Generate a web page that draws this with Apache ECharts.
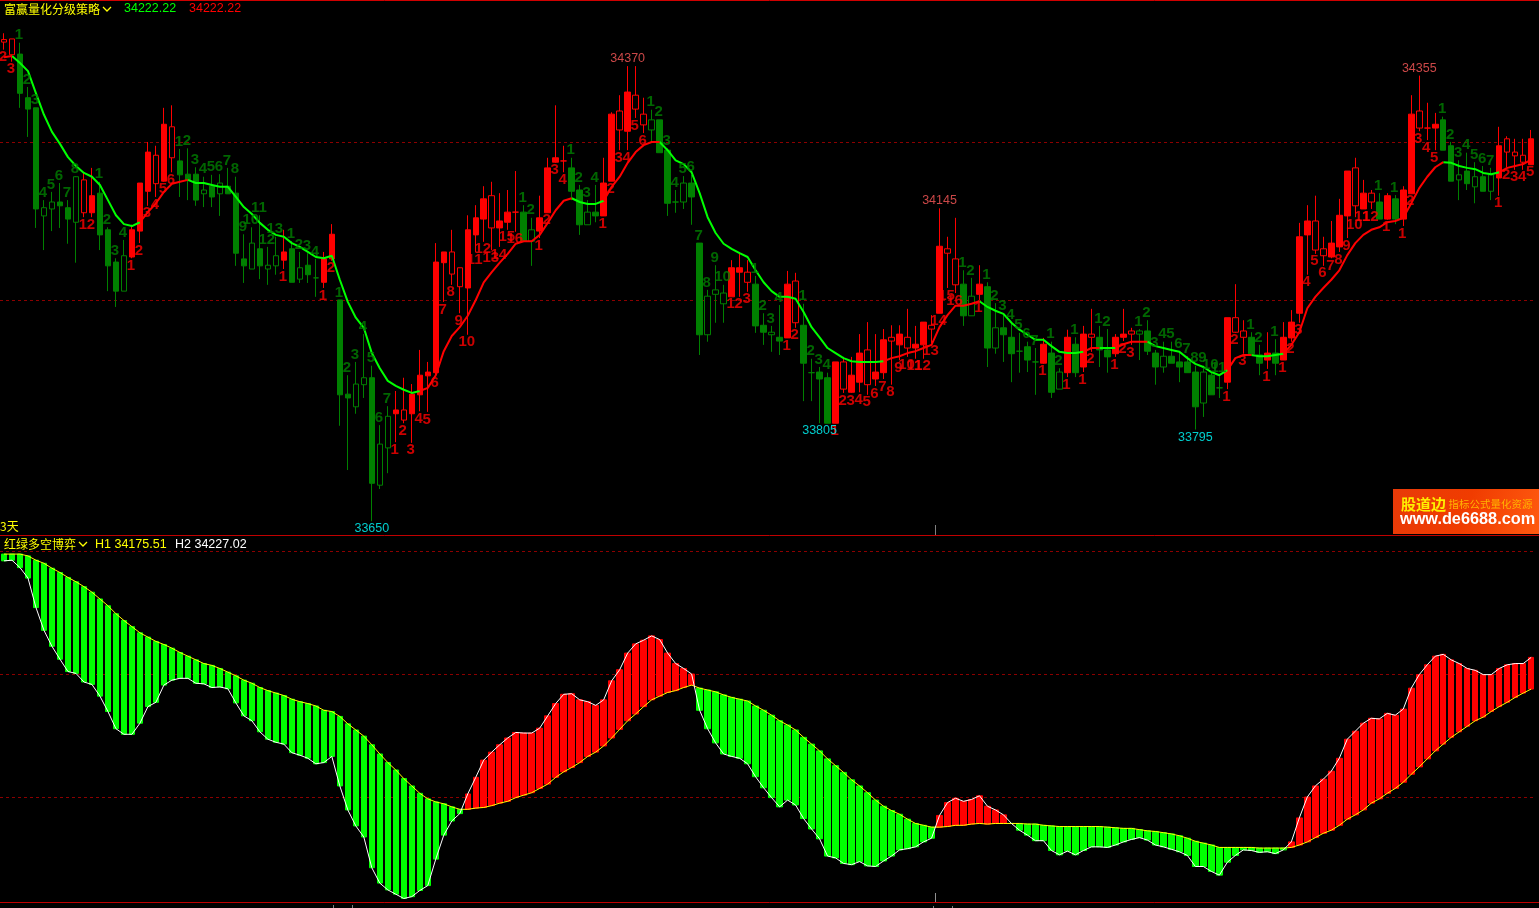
<!DOCTYPE html>
<html><head><meta charset="utf-8">
<style>html,body{margin:0;padding:0;background:#000;overflow:hidden}#c{width:1539px;height:908px}</style>
<script src="https://cdn.jsdelivr.net/npm/echarts@6/dist/echarts.min.js"></script>
</head><body><div id="c"></div>
<script>
// each row: body bottom, body top, low, high
const candles=[
[34408,34412,34396,34422],[34388,34413,34377,34413],[34327,34389,34304,34407],[34302,34320,34258,34337],[34144,34304,34114,34304],[34133,34146,34079,34158],[34144,34155,34109,34171],[34149,34155,34114,34185],
[34128,34146,34089,34158],[34123,34195,34059,34196],[34138,34190,34131,34202],[34138,34165,34131,34209],[34103,34169,34079,34187],[34054,34111,34014,34115],[34014,34060,33989,34066],[34014,34070,34014,34095],
[34068,34111,34066,34119],[34109,34185,34090,34185],[34172,34234,34149,34250],[34184,34229,34163,34244],[34188,34278,34187,34304],[34225,34274,34202,34308],[34198,34220,34163,34239],[34190,34199,34158,34240],
[34158,34199,34149,34210],[34168,34174,34147,34195],[34163,34180,34147,34198],[34168,34185,34133,34199],[34168,34180,34168,34209],[34074,34169,34054,34195],[34054,34065,34027,34104],[34049,34090,34049,34115],
[34054,34081,34033,34134],[34049,34055,34024,34084],[34054,34070,34040,34100],[34063,34076,34049,34111],[34028,34081,34028,34093],[34033,34051,34027,34076],[34040,34055,34027,34074],[34035,34035,34005,34065],
[34028,34065,34019,34076],[34065,34104,34062,34120],[33850,34000,33801,34000],[33845,33851,33731,33881],[33831,33867,33820,33902],[33866,33877,33845,33946],[33710,33877,33650,33896],[33707,33772,33701,33802],
[33766,33816,33726,33832],[33820,33826,33775,33856],[33810,33826,33805,33877],[33820,33851,33774,33867],[33850,33881,33824,33921],[33880,33886,33823,33902],[33885,34060,33880,34090],[34059,34076,33997,34076],
[34041,34076,34024,34111],[34021,34051,33979,34051],[34019,34111,33945,34134],[34103,34130,34076,34150],[34128,34160,34092,34180],[34114,34165,34079,34187],[34114,34125,34084,34169],[34123,34139,34111,34174],
[34139,34139,34108,34204],[34093,34139,34093,34150],[34093,34111,34054,34130],[34109,34130,34098,34165],[34138,34209,34138,34225],[34218,34225,34217,34308],[34220,34220,34202,34244],[34172,34209,34158,34225],
[34119,34174,34103,34182],[34119,34139,34119,34158],[34133,34139,34123,34182],[34133,34185,34133,34225],[34188,34294,34188,34297],[34269,34299,34237,34324],[34267,34329,34237,34370],[34302,34324,34288,34370],
[34277,34294,34264,34320],[34269,34285,34250,34301],[34233,34285,34233,34285],[34153,34237,34133,34240],[34155,34155,34138,34174],[34155,34185,34144,34196],[34163,34185,34119,34198],[33945,34090,33913,34090],
[33945,34006,33934,34016],[34009,34016,33964,34055],[33994,34011,33964,34024],[34005,34051,34005,34063],[34044,34051,34005,34076],[34028,34044,34013,34063],[33959,34025,33948,34038],[33949,33960,33929,33979],
[33945,33949,33918,33959],[33935,33941,33913,33992],[33940,34025,33940,34046],[33964,34030,33956,34043],[33900,33960,33840,33994],[33885,33885,33840,33907],[33875,33886,33805,33894],[33805,33877,33805,33885],
[33805,33902,33805,33902],[33859,33902,33853,33910],[33854,33881,33853,33910],[33870,33916,33854,33946],[33866,33921,33850,33965],[33875,33886,33864,33946],[33885,33937,33875,33954],[33935,33941,33866,33960],
[33929,33946,33905,33960],[33924,33941,33910,33986],[33924,33930,33907,33959],[33929,33965,33907,33965],[33954,33960,33932,33976],[33979,34085,33979,34145],[34074,34081,34019,34100],[34024,34065,34011,34130],
[33975,34025,33959,34047],[33975,34006,33975,34035],[34009,34025,34000,34055],[33924,34021,33894,34028],[33924,33956,33915,33995],[33945,33956,33902,33979],[33915,33941,33870,33964],[33919,33919,33885,33948],
[33905,33926,33886,33934],[33902,33902,33850,33924],[33900,33930,33899,33940],[33854,33916,33845,33934],[33859,33886,33859,33892],[33885,33941,33878,33953],[33885,33930,33878,33941],[33894,33946,33886,33959],
[33941,33946,33918,33986],[33921,33941,33894,33959],[33910,33921,33885,33954],[33915,33941,33910,33946],[33941,33946,33935,33986],[33946,33951,33929,33956],[33946,33951,33905,33954],[33919,33951,33913,33968],
[33894,33916,33866,33921],[33894,33911,33885,33934],[33900,33911,33900,33934],[33894,33902,33870,33919],[33885,33902,33885,33911],[33831,33886,33795,33896],[33837,33886,33815,33896],[33850,33881,33850,33886],
[33861,33861,33845,33881],[33870,33972,33859,33972],[33949,33972,33948,34025],[33941,33951,33915,33968],[33915,33941,33915,33949],[33900,33913,33881,33929],[33905,33916,33891,33949],[33900,33916,33881,33938],
[33905,33941,33905,33965],[33940,33965,33934,33984],[33979,34100,33964,34122],[34103,34125,34040,34150],[34079,34125,34073,34165],[34070,34081,34054,34100],[34068,34090,34066,34125],[34084,34134,34076,34160],
[34133,34204,34098,34204],[34149,34209,34131,34225],[34144,34169,34144,34190],[34155,34169,34144,34174],[34128,34155,34128,34169],[34128,34165,34127,34169],[34128,34160,34120,34166],[34128,34174,34117,34180],
[34168,34294,34168,34324],[34272,34299,34267,34355],[34272,34272,34253,34312],[34272,34278,34237,34296],[34237,34285,34237,34290],[34188,34244,34188,34250],[34190,34198,34158,34221],[34184,34204,34174,34233],
[34179,34195,34153,34218],[34172,34195,34172,34212],[34172,34198,34158,34209],[34193,34244,34165,34274],[34234,34255,34210,34259],[34228,34234,34206,34255],[34218,34229,34206,34255],[34214,34255,34214,34269]
];
// R solid red, r hollow red, G solid green, g hollow green
const candleKinds=["rrGGGggGGg","rRGGGgRRRr","RrGGGgGgGG","GgGggRGgGG","RRGGggGggR","rRRRRRrrRR","RrRRRGgRRR","RGGgGRRrRr","rgGGGgGGgg","gRRrGGgGRr","GGGGRrRRrR","RrRrRRrRrr","GgRGgGGGGG","RGgRGRrGGR","RrgGGgGGGG","gGGRrrGGRG","RRRRrrRRRr","RrGRGRRrRR","GGgGgGgRrr","rR"].join('');
const counts=[2,3,1,2,3,4,5,6,7,8,1,2,1,2,3,4,1,2,3,4,5,6,1,2,3,4,5,6,7,8,9,10,11,12,13,1,1,2,3,4,1,2,1,2,3,4,5,6,7,1,2,3,4,5,6,7,8,9,10,11,12,13,14,15,16,1,2,1,2,3,4,1,2,3,4,1,2,3,4,5,6,1,2,3,4,5,6,7,8,9,10,1,2,3,1,2,3,4,1,2,1,2,3,4,1,2,3,4,5,6,7,8,9,10,11,12,13,14,15,16,1,2,1,1,2,3,4,5,6,7,1,1,2,1,1,1,2,1,2,1,2,3,1,2,3,4,5,6,7,8,9,10,11,1,2,3,1,2,1,1,1,2,3,4,5,6,7,8,9,10,11,12,1,1,1,1,2,3,4,5,1,2,3,4,5,6,7,1,2,3,4,5];
const peaks=[[78,34370],[117,34145],[177,34355]];
const troughs=[[46,33650],[102,33805],[149,33795]];
const maLine=[34384,34386,34375,34362,34327,34293,34266,34247,34226,34212,34201,34195,34182,34158,34134,34120,34117,34123,34139,34153,34171,34184,34187,34190,34185,34185,34182,34179,34179,34163,34147,34136,34122,34111,34103,34100,34090,34084,34076,34068,34066,34070,34032,33997,33972,33956,33916,33892,33872,33864,33858,33853,33856,33861,33881,33919,33943,33957,33975,34000,34028,34044,34059,34073,34089,34093,34093,34103,34122,34142,34157,34161,34155,34152,34152,34157,34179,34195,34217,34234,34245,34250,34250,34237,34221,34215,34202,34169,34131,34106,34089,34081,34074,34068,34047,34028,34014,34005,34005,34002,33981,33957,33941,33924,33916,33908,33903,33902,33902,33902,33903,33908,33911,33916,33919,33924,33929,33957,33976,33991,33991,33994,33998,33989,33983,33978,33964,33953,33945,33937,33937,33927,33918,33916,33916,33918,33924,33924,33924,33924,33930,33934,33934,33934,33927,33924,33921,33918,33908,33899,33894,33886,33881,33889,33908,33913,33913,33911,33911,33913,33915,33929,33949,33987,34005,34019,34032,34047,34071,34090,34103,34111,34115,34123,34125,34130,34153,34177,34195,34210,34218,34217,34212,34209,34207,34201,34199,34202,34209,34212,34215,34222];
const maRedRuns=[[0,1],[17,23],[52,71],[75,82],[110,122],[135,137],[139,143],[153,156],[160,180],[187,191]];
const h1Line=[34395,34395,34395,34392,34385,34380,34372,34365,34357,34350,34342,34333,34322,34311,34298,34287,34277,34267,34260,34253,34248,34242,34235,34229,34223,34217,34214,34209,34203,34197,34190,34185,34178,34173,34169,34165,34159,34155,34152,34148,34141,34139,34131,34119,34109,34099,34085,34070,34056,34044,34030,34018,34006,33997,33992,33989,33984,33980,33980,33982,33983,33986,33990,33993,33999,34003,34007,34014,34021,34032,34041,34048,34056,34066,34073,34083,34096,34110,34124,34135,34147,34158,34164,34170,34173,34178,34182,34177,34174,34171,34166,34162,34159,34156,34148,34141,34133,34124,34117,34109,34097,34086,34075,34062,34051,34040,34028,34018,34007,33995,33985,33978,33972,33964,33957,33954,33951,33951,33952,33954,33954,33956,33957,33956,33957,33957,33957,33957,33956,33956,33954,33953,33952,33952,33952,33952,33952,33952,33951,33950,33949,33949,33947,33945,33944,33942,33940,33937,33933,33928,33925,33922,33918,33918,33918,33918,33918,33917,33917,33917,33917,33918,33922,33927,33934,33941,33946,33954,33964,33971,33979,33990,33997,34006,34014,34024,34037,34049,34062,34075,34086,34097,34106,34115,34124,34130,34139,34147,34154,34162,34169,34175.51];
const h2Line=[34384,34385,34373,34356,34308,34271,34245,34224,34204,34201,34187,34183,34164,34139,34111,34102,34102,34120,34147,34154,34182,34190,34193,34193,34185,34184,34178,34179,34176,34153,34132,34124,34106,34094,34089,34086,34072,34068,34063,34054,34056,34066,34018,33979,33953,33935,33885,33860,33849,33842,33835,33838,33848,33856,33899,33938,33961,33973,34005,34032,34060,34073,34085,34096,34105,34104,34104,34112,34132,34152,34167,34168,34158,34155,34149,34158,34189,34207,34234,34249,34255,34262,34256,34234,34217,34209,34200,34141,34111,34088,34070,34066,34063,34054,34033,34015,33999,33984,33995,33987,33965,33948,33932,33904,33901,33892,33890,33895,33888,33887,33896,33904,33914,33916,33919,33927,33933,33970,33991,33998,33993,33996,34002,33985,33979,33971,33957,33946,33938,33929,33929,33913,33906,33912,33906,33913,33919,33919,33918,33922,33927,33931,33934,33930,33922,33919,33915,33911,33905,33887,33887,33879,33873,33894,33905,33914,33913,33910,33911,33908,33914,33927,33966,34000,34018,34029,34042,34063,34094,34107,34120,34128,34127,34136,34133,34143,34177,34199,34215,34229,34232,34223,34217,34209,34206,34199,34199,34209,34215,34217,34217,34227.02];
const priceLevels=[34000,34250];
const lowerLevels=[34000,34200,34400];
const dayIndex=candles.map((_,i)=>i);

const RED='#ff0000',GREEN='#008000',LIME='#00ff00',DASH='#8c0000',YEL='#ffff00';
const kindOf=i=>candleKinds[i];
const isRedBar=i=>kindOf(i).toLowerCase()==='r';
const candleData=candles.map((r,i)=>{
  const c=isRedBar(i)?RED:GREEN, hollow=kindOf(i)===kindOf(i).toLowerCase();
  const f=hollow?'#000':c;
  return {value:r,itemStyle:{color:f,color0:f,borderColor:c,borderColor0:c,borderColorDoji:c}};
});
const segRed=i=>maRedRuns.some(([a,b])=>a<=i&&i+1<=b);
const maRed=maLine.map(()=>null),maGreen=maLine.map(()=>null);
for(let i=0;i<maLine.length-1;i++){const t=segRed(i)?maRed:maGreen;t[i]=maLine[i];t[i+1]=maLine[i+1];}
const greenLabels=[],redLabels=[];
candles.forEach((r,i)=>{ if(isRedBar(i)) redLabels.push([i,r[2],counts[i]]); else greenLabels.push([i,r[3],counts[i]]); });
const barData=h1Line.map((a,i)=>{
  const b=h2Line[i],c=b>a?RED:LIME;
  return {value:[a,b,Math.min(a,b),Math.max(a,b)],itemStyle:{color:c,color0:c,borderColor:c,borderColor0:c,borderColorDoji:c}};
});
const dashed=(vals)=>({silent:true,symbol:'none',z:1,animation:false,label:{show:false},
  lineStyle:{color:DASH,width:1,type:[3,3]},data:vals.map(v=>({yAxis:v}))});
const countFont={fontFamily:'"Liberation Sans Narrow","Liberation Sans",sans-serif',fontWeight:'bold',fontSize:15};
const labelSeries=(data,color,pos)=>({type:'scatter',xAxisIndex:0,yAxisIndex:0,z:4,silent:true,animation:false,
  symbolSize:0,itemStyle:{color:'transparent'},data,
  label:{show:true,position:pos,distance:0,color,...countFont,offset:[-1,0],formatter:p=>p.value[2]}});
const extremeSeries=(data,color,pos)=>({type:'scatter',xAxisIndex:0,yAxisIndex:0,z:5,silent:true,animation:false,
  symbolSize:0,itemStyle:{color:'transparent'},data,
  label:{show:true,position:pos,distance:1,color,fontFamily:'"Liberation Sans",sans-serif',fontSize:12.5,formatter:p=>p.value[1]}});
const txt=(text,x,y,fill,font)=>({type:'text',silent:true,z:20,style:{text,x,y,fill,font,textVerticalAlign:'middle'}});
const CJK='12px "Noto Sans CJK SC",sans-serif',NUM='12.5px "Liberation Sans",sans-serif';
const rule=(x1,y1,x2,y2,c)=>({type:'line',silent:true,z:19,shape:{x1,y1,x2,y2},style:{stroke:c,lineWidth:1}});
const chevron=(x,y)=>({type:'polyline',silent:true,z:20,shape:{points:[[x,y],[x+4,y+4],[x+8,y]]},style:{stroke:YEL,lineWidth:1.3,fill:null}});

const chart=echarts.init(document.getElementById('c'),null,{renderer:'canvas'});
chart.setOption({
  animation:false,backgroundColor:'#000',tooltip:{show:false},
  grid:[{left:-0.8,width:1536,top:0,height:535},{left:-0.8,width:1536,top:536,height:366}],
  xAxis:[{type:'category',gridIndex:0,data:dayIndex,show:false},{type:'category',gridIndex:1,data:dayIndex,show:false}],
  yAxis:[{type:'value',gridIndex:0,min:33628.2,max:34474.6,show:false,splitLine:{show:false}},
         {type:'value',gridIndex:1,min:33829.3,max:34424.4,show:false,splitLine:{show:false}}],
  series:[
    {type:'candlestick',xAxisIndex:0,yAxisIndex:0,z:2,barWidth:6,data:candleData,silent:true,markLine:dashed(priceLevels)},
    {type:'line',xAxisIndex:0,yAxisIndex:0,z:3,silent:true,showSymbol:false,connectNulls:false,data:maGreen,lineStyle:{color:LIME,width:2}},
    {type:'line',xAxisIndex:0,yAxisIndex:0,z:3,silent:true,showSymbol:false,connectNulls:false,data:maRed,lineStyle:{color:RED,width:2}},
    labelSeries(greenLabels,GREEN,'top'),
    labelSeries(redLabels,RED,'bottom'),
    extremeSeries(peaks,'#ff5a5a','top'),
    extremeSeries(troughs,'#00ffff','bottom'),
    {type:'candlestick',xAxisIndex:1,yAxisIndex:1,z:2,barWidth:6,data:barData,silent:true,markLine:dashed(lowerLevels)},
    {type:'line',xAxisIndex:1,yAxisIndex:1,z:3,silent:true,showSymbol:false,data:h1Line,lineStyle:{color:YEL,width:1}},
    {type:'line',xAxisIndex:1,yAxisIndex:1,z:3,silent:true,showSymbol:false,data:h2Line,lineStyle:{color:'#fff',width:1}}
  ],
  graphic:[
    rule(0,0.5,1539,0.5,'#d00000'),rule(0,535.5,1539,535.5,'#c00000'),rule(0,902.5,1539,902.5,'#c00000'),
    rule(935.5,525,935.5,535,'#808080'),rule(935.5,893,935.5,902,'#909090'),
    rule(333.5,905,333.5,908,'#808080'),rule(352.5,905,352.5,908,'#808080'),rule(933.5,906,933.5,908,'#808080'),rule(952.5,906,952.5,908,'#808080'),
    txt('富赢量化分级策略',4,9,YEL,CJK),chevron(103,7),
    txt('34222.22',124,9,LIME,NUM),txt('34222.22',189,9,RED,NUM),
    txt('3天',0,526,YEL,CJK),
    txt('红绿多空博弈',4,544,YEL,CJK),chevron(79,542),
    txt('H1 34175.51',95,544.5,YEL,NUM),txt('H2 34227.02',175,544.5,'#fff',NUM),
    {type:'rect',silent:true,z:18,shape:{x:1393,y:489,width:146,height:45},
     style:{fill:new echarts.graphic.LinearGradient(0,0,1,1,[{offset:0,color:'#e83a08'},{offset:.5,color:'#f03c00'},{offset:1,color:'#ff5a10'}])}},
    txt('股道边',1401,504,'#ffee00','bold 15px "Noto Sans CJK SC",sans-serif'),
    txt('指标公式量化资源',1448.5,504.5,'#ffb400','10.5px "Noto Sans CJK SC",sans-serif'),
    txt('www.de6688.com',1400,520,'#fff','bold 16.3px "Liberation Sans",sans-serif')
  ]
});
</script></body></html>
